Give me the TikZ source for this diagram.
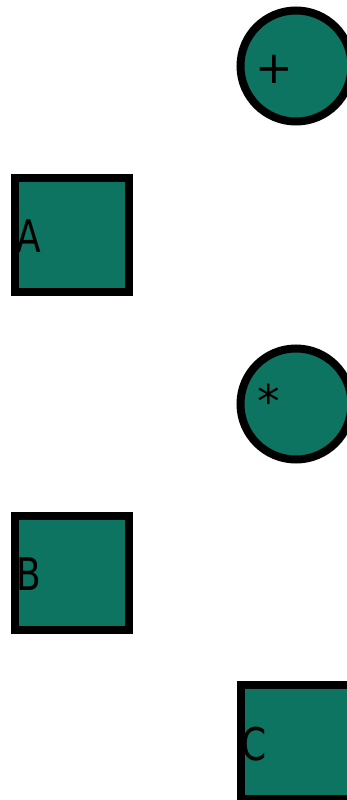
\documentclass[tikz,border=0pt]{standalone}
\usepackage{fontspec}
\setmainfont{DejaVu Sans}
\newfontfamily\letterfont{DejaVu Sans}[FakeStretch=0.8]
\definecolor{tealfill}{HTML}{0E7462}
\begin{document}
\begin{tikzpicture}[x=1pt,y=-1pt,
  shapebase/.style={draw=black,line width=8pt,fill=tealfill,inner sep=0pt},
  sq/.style={shapebase,rectangle,minimum size=114pt},
  circ/.style={shapebase,circle,minimum size=111pt},
  txt/.style={anchor=base west,inner sep=0pt,font=\fontsize{45}{54}\selectfont},
  lettertxt/.style={txt,font=\fontsize{45}{54}\letterfont}]
\useasboundingbox (0,0) rectangle (347,800);
\node[circ] (plus) at (296,66) {};
\node[sq] (A) at (72,234.5) {};
\node[circ] (times) at (296,404) {};
\node[sq] (B) at (72,572.5) {};
\node[sq] (C) at (298,742) {};
\node[txt] (plustext) at ([xshift=-41pt,yshift=-18pt]plus.center) {+};
\node[lettertxt] (Atext) at ([xshift=-56pt,yshift=-18pt]A.center) {A};
\node[txt] (timestext) at ([xshift=-39pt,yshift=-13pt]times.center) {*};
\node[lettertxt] (Btext) at ([xshift=-56pt,yshift=-18pt]B.center) {B};
\node[lettertxt] (Ctext) at ([xshift=-57pt,yshift=-18pt]C.center) {C};
\end{tikzpicture}
\end{document}
